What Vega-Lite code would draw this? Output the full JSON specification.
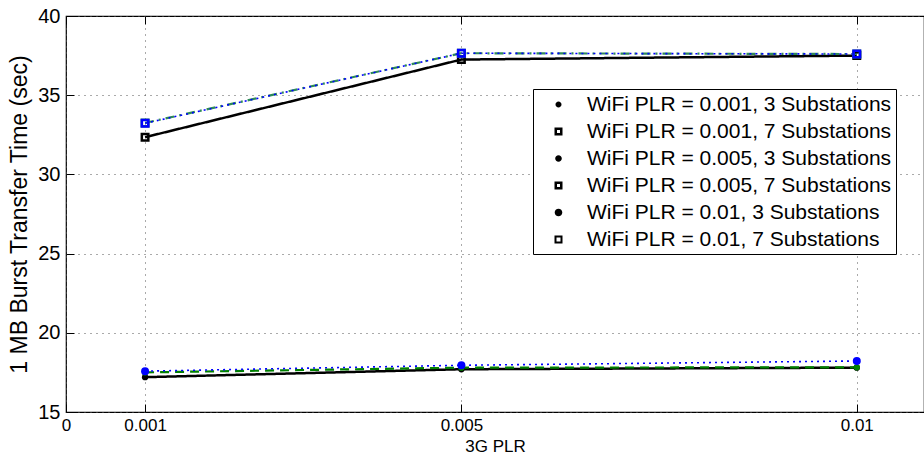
{
  "$schema": "https://vega.github.io/schema/vega-lite/v6.json",
  "width": 858,
  "height": 396,
  "autosize": {"type": "none"},
  "padding": {"left": 66, "top": 16, "right": 0, "bottom": 49},
  "background": "white",
  "config": {
    "font": "Liberation Sans",
    "view": {"stroke": "#000", "strokeWidth": 1.2},
    "axis": {
      "labelFont": "Liberation Sans",
      "titleFont": "Liberation Sans",
      "labelFontSize": 18,
      "titleFontSize": 18,
      "labelColor": "#000",
      "titleColor": "#000",
      "titleFontWeight": "normal",
      "tickColor": "#000",
      "tickWidth": 1,
      "domain": false,
      "gridColor": "#555",
      "gridDash": [1, 5],
      "gridOpacity": 1,
      "gridWidth": 1
    },
    "legend": {
      "title": null,
      "orient": "none",
      "legendX": 467,
      "legendY": 73,
      "strokeColor": "#000",
      "fillColor": "#fff",
      "padding": 4,
      "labelFont": "Liberation Sans",
      "labelFontSize": 21,
      "labelColor": "#000",
      "labelLimit": 400,
      "labelOffset": 27,
      "rowPadding": 5,
      "symbolSize": 400,
      "symbolOpacity": 1,
      "symbolStrokeWidth": 2.2
    }
  },
  "data": {
    "values": [
      {"x": 0.001, "y": 17.2, "series": "WiFi PLR = 0.001, 3 Substations"},
      {"x": 0.005, "y": 17.7, "series": "WiFi PLR = 0.001, 3 Substations"},
      {"x": 0.01, "y": 17.8, "series": "WiFi PLR = 0.001, 3 Substations"},
      {"x": 0.001, "y": 32.35, "series": "WiFi PLR = 0.001, 7 Substations"},
      {"x": 0.005, "y": 37.25, "series": "WiFi PLR = 0.001, 7 Substations"},
      {"x": 0.01, "y": 37.5, "series": "WiFi PLR = 0.001, 7 Substations"},
      {"x": 0.001, "y": 17.5, "series": "WiFi PLR = 0.005, 3 Substations"},
      {"x": 0.005, "y": 17.8, "series": "WiFi PLR = 0.005, 3 Substations"},
      {"x": 0.01, "y": 17.82, "series": "WiFi PLR = 0.005, 3 Substations"},
      {"x": 0.001, "y": 33.25, "series": "WiFi PLR = 0.005, 7 Substations"},
      {"x": 0.005, "y": 37.65, "series": "WiFi PLR = 0.005, 7 Substations"},
      {"x": 0.01, "y": 37.6, "series": "WiFi PLR = 0.005, 7 Substations"},
      {"x": 0.001, "y": 17.58, "series": "WiFi PLR = 0.01, 3 Substations"},
      {"x": 0.005, "y": 17.95, "series": "WiFi PLR = 0.01, 3 Substations"},
      {"x": 0.01, "y": 18.22, "series": "WiFi PLR = 0.01, 3 Substations"},
      {"x": 0.001, "y": 33.23, "series": "WiFi PLR = 0.01, 7 Substations"},
      {"x": 0.005, "y": 37.65, "series": "WiFi PLR = 0.01, 7 Substations"},
      {"x": 0.01, "y": 37.6, "series": "WiFi PLR = 0.01, 7 Substations"}
    ]
  },
  "resolve": {"axis": {"x": "independent", "y": "independent"}},
  "layer": [
    {
      "transform": [{"filter": "indexof(datum.series, '0.001,') >= 0"}],
      "mark": {"type": "line", "strokeWidth": 2.5},
      "encoding": {
        "x": {
          "field": "x", "type": "quantitative",
          "scale": {"domain": [0, 0.01085], "nice": false, "zero": false},
          "axis": {
            "orient": "bottom",
            "values": [0, 0.001, 0.005, 0.01],
            "format": "~g",
            "title": "3G PLR",
            "grid": true,
            "ticks": false,
            "labelFontSize": 17,
            "titleFontSize": 17,
            "labelPadding": 5,
            "titlePadding": 5,
            "labelFlush": false
          }
        },
        "y": {
          "field": "y", "type": "quantitative",
          "scale": {"domain": [15, 40], "nice": false, "zero": false},
          "axis": {
            "orient": "left",
            "values": [15, 20, 25, 30, 35, 40],
            "title": "1 MB Burst Transfer Time (sec)",
            "grid": true,
            "ticks": false,
            "labelFontSize": 20,
            "titleFontSize": 23,
            "labelPadding": 6,
            "titlePadding": 6
          }
        },
        "stroke": {
          "field": "series", "type": "nominal",
          "scale": {"range": ["#000000", "#000000", "#008000", "#2E8B57", "#0000FF", "#0000FF"]},
          "legend": null
        },
        "strokeDash": {
          "field": "series", "type": "nominal",
          "scale": {"range": [[1, 0], [1, 0], [9, 6], [9, 5, 2, 5], [2, 4], [2, 4]]},
          "legend": null
        }
      }
    },
    {
      "transform": [{"filter": "indexof(datum.series, '0.005,') >= 0"}],
      "mark": {"type": "line", "strokeWidth": 2.2},
      "encoding": {
        "x": {
          "field": "x", "type": "quantitative",
          "axis": {
            "orient": "top", "offset": -8, "values": [0, 0.001, 0.005, 0.01],
            "labels": false, "title": null, "grid": false, "ticks": true, "tickSize": 8
          }
        },
        "y": {
          "field": "y", "type": "quantitative",
          "axis": {
            "orient": "left", "offset": -8, "values": [15, 20, 25, 30, 35, 40],
            "labels": false, "title": null, "grid": false, "ticks": true, "tickSize": 8
          }
        },
        "stroke": {"field": "series", "type": "nominal", "legend": null},
        "strokeDash": {"field": "series", "type": "nominal", "legend": null}
      }
    },
    {
      "transform": [{"filter": "indexof(datum.series, '0.01,') >= 0"}],
      "mark": {"type": "line", "strokeWidth": 1.6},
      "encoding": {
        "x": {
          "field": "x", "type": "quantitative",
          "axis": {
            "orient": "bottom", "offset": -8, "values": [0, 0.001, 0.005, 0.01],
            "labels": false, "title": null, "grid": false, "ticks": true, "tickSize": 8
          }
        },
        "y": {"field": "y", "type": "quantitative", "axis": null},
        "stroke": {"field": "series", "type": "nominal", "legend": null},
        "strokeDash": {"field": "series", "type": "nominal", "legend": null}
      }
    },
    {
      "mark": {"type": "point", "filled": true, "opacity": 0},
      "encoding": {
        "x": {"field": "x", "type": "quantitative", "axis": null},
        "y": {"field": "y", "type": "quantitative", "axis": null},
        "color": {
          "field": "series", "type": "nominal",
          "scale": {"range": ["#000000", "#000000", "#008000", "#2E8B57", "#0000FF", "#0000FF"]}
        },
        "stroke": {"field": "series", "type": "nominal"},
        "strokeDash": {"field": "series", "type": "nominal"},
        "shape": {
          "field": "series", "type": "nominal",
          "scale": {"range": [
            "M-1,0H3M1.3,0A0.3,0.3 0 1,1 0.7,0A0.3,0.3 0 1,1 1.3,0Z",
            "M-1,0H0.6M1.4,0H3M0.6,-0.4H1.4V0.4H0.6ZM0.85,-0.15V0.15H1.15V-0.15Z",
            "M-1,0H3M1.33,0A0.33,0.33 0 1,1 0.67,0A0.33,0.33 0 1,1 1.33,0Z",
            "M-1,0H0.6M1.4,0H3M0.6,-0.4H1.4V0.4H0.6ZM0.85,-0.15V0.15H1.15V-0.15Z",
            "M-1,0H3M1.38,0A0.38,0.38 0 1,1 0.62,0A0.38,0.38 0 1,1 1.38,0Z",
            "M-1,0H0.6M1.4,0H3M0.6,-0.4H1.4V0.4H0.6ZM0.8,-0.2V0.2H1.2V-0.2Z"
          ]}
        }
      }
    },
    {
      "transform": [{"filter": "indexof(datum.series, '3 Sub') >= 0 && indexof(datum.series, '0.01,') < 0"}],
      "mark": {"type": "circle", "size": 40, "opacity": 1},
      "encoding": {
        "x": {"field": "x", "type": "quantitative", "axis": null},
        "y": {"field": "y", "type": "quantitative", "axis": null},
        "color": {"field": "series", "type": "nominal", "legend": null}
      }
    },
    {
      "transform": [{"filter": "indexof(datum.series, '0.01, 3') >= 0"}],
      "mark": {"type": "circle", "size": 64, "opacity": 1},
      "encoding": {
        "x": {"field": "x", "type": "quantitative", "axis": null},
        "y": {"field": "y", "type": "quantitative", "axis": null},
        "color": {"field": "series", "type": "nominal", "legend": null}
      }
    },
    {
      "transform": [{"filter": "indexof(datum.series, '7 Sub') >= 0"}],
      "mark": {"type": "point", "filled": true, "size": 100, "opacity": 1, "strokeWidth": 0,
               "shape": "M-0.9,-0.9H0.9V0.9H-0.9ZM-0.4,-0.4V0.4H0.4V-0.4Z"},
      "encoding": {
        "x": {"field": "x", "type": "quantitative", "axis": null},
        "y": {"field": "y", "type": "quantitative", "axis": null},
        "color": {"field": "series", "type": "nominal", "legend": null}
      }
    }
  ]
}
